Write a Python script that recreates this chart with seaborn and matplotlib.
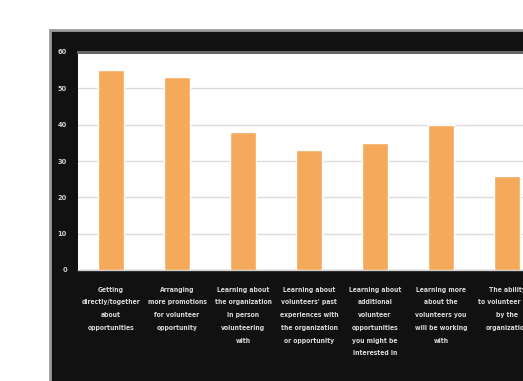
import matplotlib
matplotlib.use('agg')
import matplotlib.pyplot as plt
import seaborn as sns
from matplotlib.patches import Rectangle

categories = [
    "Getting\ndirectly/together\nabout\nopportunities",
    "Arranging\nmore promotions\nfor volunteer\nopportunity",
    "Learning about\nthe organization\nin person\nvolunteering\nwith",
    "Learning about\nvolunteers' past\nexperiences with\nthe organization\nor opportunity",
    "Learning about\nadditional\nvolunteer\nopportunities\nyou might be\ninterested in",
    "Learning more\nabout the\nvolunteers you\nwill be working\nwith",
    "The ability\nto volunteer as a\nby the\norganization",
]
values = [55, 53, 38, 33, 35, 40, 26]
yticks = [0, 10, 20, 30, 40, 50, 60]

sns.set_style('white')
plt.rcParams['font.family'] = ['DejaVu Sans']

fig = plt.figure(figsize=(5.23, 3.81), dpi=100)
fig.patch.set_facecolor('white')

# dark panel behind the chart
panel = Rectangle((50 / 523, -0.05), 1.0, 1 - 30 / 381 + 0.05, transform=fig.transFigure,
                  facecolor='#111111', edgecolor='#9a9a9a', linewidth=2, zorder=-10)
fig.patches.append(panel)

ax = fig.add_axes([78 / 523, 1 - 270 / 381, 462 / 523, (270 - 52) / 381])
ax.set_facecolor('white')

sns.barplot(x=list(range(len(values))), y=values, color='#f5a95a', saturation=1,
            width=0.4, ax=ax, zorder=3)

ax.set_ylim(0, 60)
ax.set_xlim(-0.5, len(values) - 0.5)
ax.set_yticks(yticks)
ax.set_yticklabels([str(t) for t in yticks], fontsize=4.8, color='#cfcfcf', fontweight='bold')
ax.yaxis.grid(True, color='#dcdcdc', linewidth=1, zorder=0)
ax.set_axisbelow(True)

ax.set_xticks(range(len(values)))
ax.set_xticklabels(categories, fontsize=4.9, color='#d8d8d8', fontweight='bold',
                   fontstretch='condensed', linespacing=2.35, va='top')
ax.tick_params(axis='x', length=0, pad=12)
ax.set_xticks([i - 0.5 for i in range(len(values) + 1)], minor=True)
ax.tick_params(axis='x', which='minor', length=4, color='#555555')
ax.tick_params(axis='y', length=4, color='#555555', pad=4)

for s in ['left', 'right']:
    ax.spines[s].set_visible(False)
ax.spines['top'].set_color('#666666')
ax.spines['top'].set_linewidth(2.2)
ax.spines['bottom'].set_color('#cccccc')
ax.spines['bottom'].set_linewidth(1)
ax.set_xlabel('')
ax.set_ylabel('')

fig.savefig('out.png', dpi=100, facecolor=fig.get_facecolor())
